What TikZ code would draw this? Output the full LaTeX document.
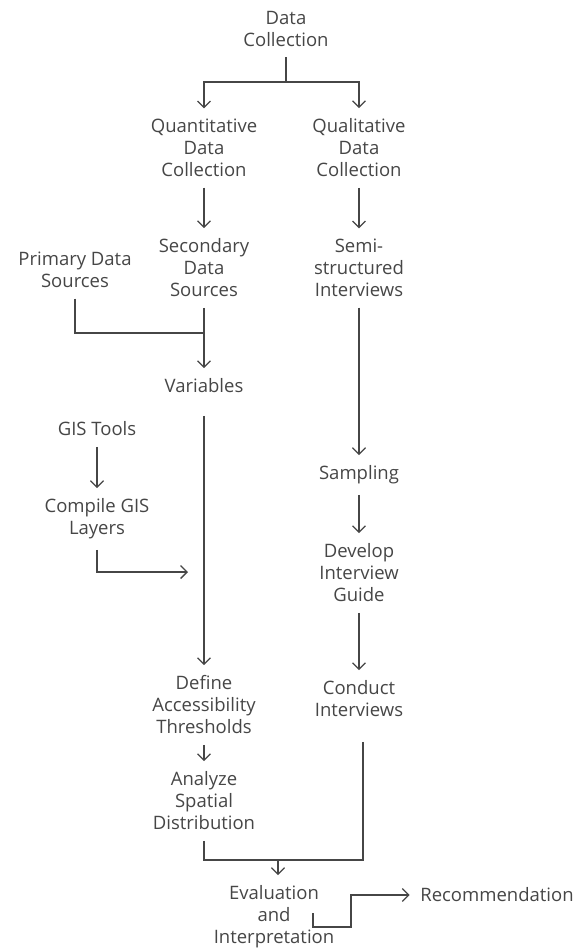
\documentclass[tikz,border=0pt]{standalone}
\usepackage{fontspec}
\setmainfont{Open Sans}
\usetikzlibrary{arrows.meta,positioning}
\definecolor{ink}{HTML}{464646}

\begin{document}
\begin{tikzpicture}[x=1pt, y=1pt, color=ink, line width=1.3pt, >={Straight Barb[length=6.5pt,width=13pt]},
   on grid, stage/.style={align=center, font=\fontsize{18.5}{22}\selectfont, inner sep=10pt}]
   \useasboundingbox (0,0) rectangle (581,-949);

   % top of the tree
   \node[stage] (dc)   at (286,-29)  {Data\\Collection};
   \node[stage] (quan) at (204,-148) {Quantitative\\Data\\Collection};
   \node[stage] (qual) [right=155pt of quan] {Qualitative\\Data\\Collection};

   % quantitative branch
   \node[stage] (sec)  [below=120pt of quan] {Secondary\\Data\\Sources};
   \node[stage] (prim) at (75,-270)  {Primary Data\\Sources};
   \node[stage] (var)  [below=118pt of sec]  {Variables};
   \node[stage] (gis)  at (97,-429)  {GIS Tools};
   \node[stage] (comp) [below=90pt of gis]   {Compile GIS\\Layers};
   \node[stage] (def)  [below=319pt of var]  {Define\\Accessibility\\Thresholds};
   \node[stage] (ana)  [below=96pt of def]   {Analyze\\Spatial\\Distribution};

   % qualitative branch
   \node[stage] (semi) [below=120pt of qual] {Semi-\\structured\\Interviews};
   \node[stage] (samp) [below=207pt of semi] {Sampling};
   \node[stage] (dev)  [below=98pt of samp]  {Develop\\Interview\\Guide};
   \node[stage] (cond) [below=126pt of dev]  {Conduct\\Interviews};

   % end
   \node[stage] (eval) at (274,-917) {Evaluation\\and\\Interpretation};
   \node[stage] (rec)  at (497,-895) {Recommendation};

   \coordinate (split)   at (286,-82);
   \coordinate (merge)   at (204,-333);
   \coordinate (gisend)  at (188,-572);
   \coordinate (join)    at (278,-860);
   \coordinate (evalout) at (313,-913);

   \draw (dc) -- (split);
   \draw[->] (split) -| (quan);
   \draw[->] (split) -| (qual);
   \path[->]
    (quan) edge (sec)
    (qual) edge (semi)
    (sec)  edge (var)
    (var)  edge [shorten <=12pt] (def)
    (def)  edge (ana)
    (gis)  edge (comp)
    (semi) edge (samp)
    (samp) edge (dev)
    (dev)  edge (cond);
   \draw (prim) |- (merge);
   \draw[->] (comp) |- (gisend);
   \draw (ana) |- (join);
   \draw ([xshift=4pt,yshift=-14pt]cond.south) |- (join);
   \draw[->] (join) -- (join |- eval.north);
   \draw[->] (evalout) |- ++(38,-14) |- (rec);
\end{tikzpicture}
\end{document}
